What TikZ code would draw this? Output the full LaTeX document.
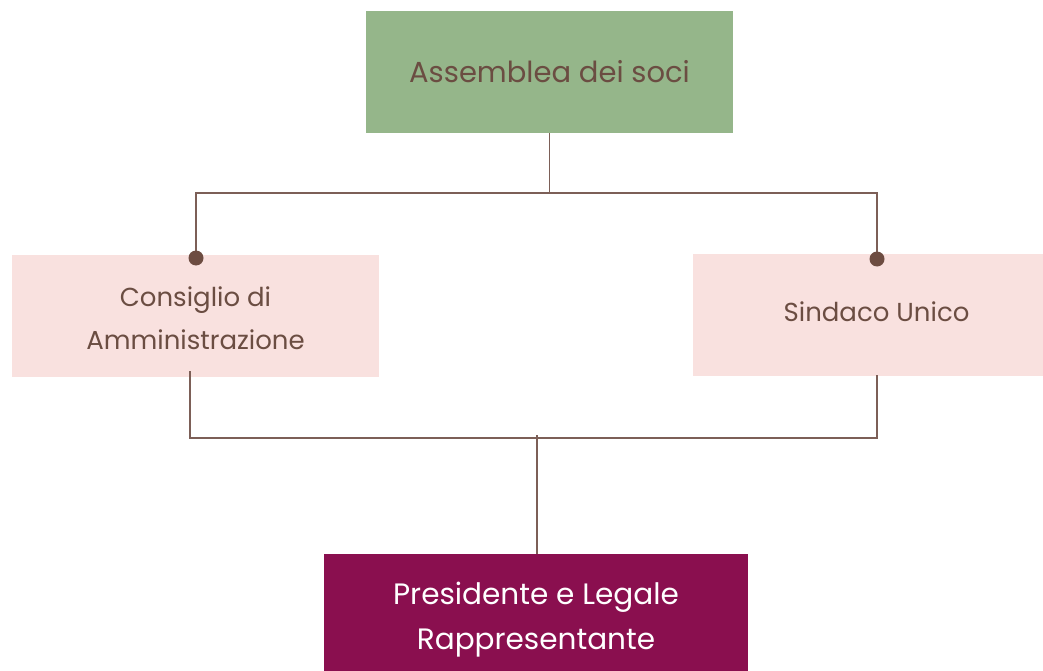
\documentclass[tikz,border=0pt]{standalone}
\usepackage{fontspec}
\setmainfont{Poppins}
\definecolor{topgreen}{HTML}{95B68A}
\definecolor{boxpink}{HTML}{F9E1DF}
\definecolor{botmag}{HTML}{8A0F4F}
\definecolor{txtbrown}{HTML}{6B4D42}
\definecolor{linebrown}{HTML}{7C5F57}
\definecolor{dotbrown}{HTML}{6D4C41}
\tikzset{
  box/.style={rectangle, inner sep=0pt, minimum width=367pt, minimum height=122pt},
  boxtext/.style={align=center, text=txtbrown, inner sep=0pt},
  conn/.style={draw=linebrown, line width=1.4pt},
  dotmark/.style={fill=dotbrown},
}
\begin{document}
\begin{tikzpicture}[x=1pt,y=-1pt]
\useasboundingbox (0,0) rectangle (1043,671);
\node[box, fill=topgreen, label={[boxtext, font=\fontsize{29}{34}\selectfont]center:Assemblea dei soci}] (top) at (549.5,72) {};
\node[box, fill=boxpink, label={[boxtext, yshift=-2.5pt, font=\fontsize{26}{43}\selectfont]center:Consiglio di\\Amministrazione}] (cda) at (195.5,316) {};
\node[box, fill=boxpink, label={[boxtext, yshift=3.5pt, font=\fontsize{26}{43}\selectfont]center:Sindaco Unico}] (sind) at (876.5,315) {};
\node[box, fill=botmag, minimum width=424pt, label={[boxtext, text=white, yshift=-4.5pt, font=\fontsize{29.5}{45}\selectfont]center:Presidente e Legale\\Rappresentante}] (pres) at (536,615) {};
% top connectors
\coordinate (tj) at (549.5,193);
\coordinate (tL) at (196,193);
\coordinate (tR) at (877,193);
\coordinate (dL) at (196,258);
\coordinate (dR) at (877,259);
\draw[conn] (top.south) -- (tj);
\draw[conn] (dL) -- (tL) -- (tR) -- (dR);
\fill[dotmark] (dL) circle (7.5);
\fill[dotmark] (dR) circle (7.5);
% bottom connectors
\coordinate (cL) at (190,371);
\coordinate (cR) at (877,375);
\coordinate (hL) at (190,438);
\coordinate (hR) at (877,438);
\coordinate (hM) at (537,435);
\draw[conn] (cL) -- (hL) -- (hR) -- (cR);
\draw[conn] (hM) -- (hM |- pres.north);
\end{tikzpicture}
\end{document}
